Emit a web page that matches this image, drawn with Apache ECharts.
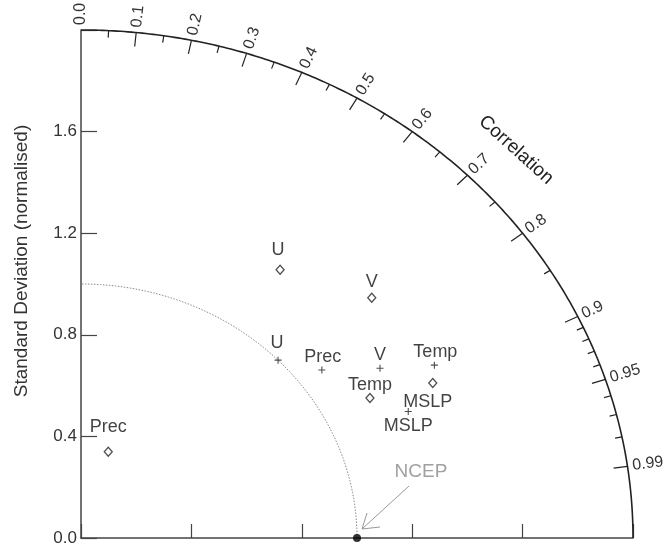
<!DOCTYPE html>
<html><head><meta charset="utf-8">
<script src="https://cdn.jsdelivr.net/npm/echarts@6.0.0/dist/echarts.min.js"></script>
<style>html,body{margin:0;padding:0;background:#fff}#c{width:669px;height:550px}</style>
</head><body><div id="c"></div>
<script>
// ---------------- DATA ----------------
const variables   = ['Prec', 'U', 'V', 'Temp', 'MSLP'];
// diamond markers (normalised std, correlation)
const diamondStd  = [0.354, 1.279, 1.416, 1.183, 1.413];
const diamondCorr = [0.279, 0.564, 0.744, 0.885, 0.902];
// plus markers (normalised std, correlation)
const plusStd     = [1.095, 1.000, 1.273, 1.450, 1.286];
const plusCorr    = [0.797, 0.714, 0.851, 0.883, 0.922];
// reference
const referenceName = 'NCEP';
const referenceStd  = 1.0;
const referenceCorr = 1.0;
// axes
const stdMax      = 2.0;
const stdTickStep = 0.4;
const stdTickLabels = ['0.0', '0.4', '0.8', '1.2', '1.6'];
const corrMajor   = [0.0, 0.1, 0.2, 0.3, 0.4, 0.5, 0.6, 0.7, 0.8, 0.9, 0.95, 0.99];
const corrLabels  = ['0.0', '0.1', '0.2', '0.3', '0.4', '0.5', '0.6', '0.7', '0.8', '0.9', '0.95', '0.99'];
const corrMinor   = [0.05, 0.15, 0.25, 0.35, 0.45, 0.55, 0.65, 0.75, 0.85, 0.91, 0.92, 0.93, 0.94, 0.96, 0.97, 0.98];
const yAxisTitle  = 'Standard Deviation (normalised)';
const corrTitle   = 'Correlation';

// ---------------- STYLE ----------------
const FONT = '"Liberation Sans", Arial, Helvetica, sans-serif';
const diamondLabelOffset = { Prec: [0, -25], U: [-2, -20], V: [0, -16], Temp: [0, -13], MSLP: [-5, 19] };
const plusLabelOffset    = { Prec: [1, -13], U: [-1, -17], V: [0, -13], Temp: [1, -13], MSLP: [0, 15] };

function toXY(std, c) { return [std * c, std * Math.sqrt(Math.max(0, 1 - c * c))]; }

function pointData(stds, corrs, offsets) {
  return variables.map((name, i) => ({
    name: name,
    value: toXY(stds[i], corrs[i]),
    label: { offset: offsets[name] }
  }));
}

const chart = echarts.init(document.getElementById('c'), null, { renderer: 'canvas' });

function renderFrame(params, api) {
  const o = api.coord([0, 0]);
  const children = [];
  // outer correlation arc
  const outer = [];
  for (let i = 0; i <= 240; i++) {
    const a = Math.PI / 2 * i / 240;
    outer.push(api.coord([stdMax * Math.cos(a), stdMax * Math.sin(a)]));
  }
  children.push({ type: 'polyline', shape: { points: outer }, style: { stroke: '#222', lineWidth: 1.6, fill: null } });
  // reference std arc
  const ref = [];
  for (let i = 0; i <= 200; i++) {
    const a = Math.PI / 2 * i / 200;
    ref.push(api.coord([referenceStd * Math.cos(a), referenceStd * Math.sin(a)]));
  }
  children.push({ type: 'polyline', shape: { points: ref }, style: { stroke: '#888', lineWidth: 1, lineDash: [1.5, 1.5], fill: null } });
  // ticks
  function tick(c, len) {
    const p = api.coord(toXY(stdMax, c));
    const dx = p[0] - o[0], dy = p[1] - o[1];
    const n = Math.sqrt(dx * dx + dy * dy);
    return { p: p, ux: dx / n, uy: dy / n, len: len };
  }
  corrMinor.forEach(c => {
    const t = tick(c, 7);
    children.push({ type: 'line', shape: { x1: t.p[0], y1: t.p[1], x2: t.p[0] - t.ux * t.len, y2: t.p[1] - t.uy * t.len }, style: { stroke: '#222', lineWidth: 1.2 } });
  });
  corrMajor.forEach((c, i) => {
    const t = tick(c, 14);
    if (c > 0) {
      children.push({ type: 'line', shape: { x1: t.p[0], y1: t.p[1], x2: t.p[0] - t.ux * t.len, y2: t.p[1] - t.uy * t.len }, style: { stroke: '#222', lineWidth: 1.2 } });
    }
    children.push({
      type: 'text',
      x: t.p[0] + t.ux * 5, y: t.p[1] + t.uy * 5,
      rotation: Math.atan2(-t.uy, t.ux),
      style: { text: corrLabels[i], align: 'left', verticalAlign: 'middle', font: '16px ' + FONT, fill: '#333' }
    });
  });
  // NCEP arrow
  const r = api.coord(toXY(referenceStd, referenceCorr));
  const tip = [r[0] + 5, r[1] - 9];
  children.push({ type: 'line', shape: { x1: r[0] + 52, y1: r[1] - 52, x2: tip[0], y2: tip[1] }, style: { stroke: '#999', lineWidth: 1 } });
  children.push({ type: 'polyline', shape: { points: [[r[0] + 10, r[1] - 25], tip, [r[0] + 23, r[1] - 11]] }, style: { stroke: '#999', lineWidth: 1, fill: null } });
  return { type: 'group', children: children };
}

const labelStyle = { show: true, position: 'inside', formatter: '{b}', fontFamily: FONT, fontSize: 18, color: '#111', align: 'center', verticalAlign: 'middle' };

chart.setOption({
  animation: false,
  backgroundColor: '#fff',
  grid: { left: 81, right: 36, top: 30, bottom: 12, containLabel: false },
  xAxis: {
    type: 'value', min: 0, max: stdMax, interval: stdTickStep,
    axisLine: { show: true, onZero: false, lineStyle: { color: '#444', width: 1.5 } },
    axisTick: { show: true, inside: true, length: 14, lineStyle: { color: '#444', width: 1.2 } },
    axisLabel: { show: false },
    splitLine: { show: false }
  },
  yAxis: {
    type: 'value', min: 0, max: stdMax, interval: stdTickStep,
    axisLine: { show: true, onZero: false, lineStyle: { color: '#444', width: 1.5 } },
    axisTick: { show: true, inside: true, length: 16, lineStyle: { color: '#444', width: 1.2 } },
    axisLabel: {
      show: true, margin: 4, fontFamily: FONT, fontSize: 17, color: '#333',
      formatter: function (v) { const k = Math.round(v / stdTickStep); return stdTickLabels[k] || ''; }
    },
    splitLine: { show: false }
  },
  graphic: [
    { type: 'text', x: 22, y: 261, rotation: Math.PI / 2, style: { text: yAxisTitle, align: 'center', verticalAlign: 'middle', font: '19px ' + FONT, fill: '#333' } },
    { type: 'text', x: 516, y: 150, rotation: -0.733, style: { text: corrTitle, align: 'center', verticalAlign: 'middle', font: '19px ' + FONT, fill: '#222' } }
  ],
  series: [
    { type: 'custom', name: 'frame', coordinateSystem: 'cartesian2d', data: [[0, 0]], renderItem: renderFrame, silent: true, clip: false, z: 1 },
    {
      type: 'scatter', name: 'Experiment (diamond)', data: pointData(diamondStd, diamondCorr, diamondLabelOffset),
      symbol: 'diamond', symbolSize: [8, 9],
      itemStyle: { color: '#fff', borderColor: '#222', borderWidth: 1.3 },
      label: labelStyle, z: 3
    },
    {
      type: 'scatter', name: 'Experiment (plus)', data: pointData(plusStd, plusCorr, plusLabelOffset),
      symbol: 'path://M5,0 L5,10 M0,5 L10,5', symbolSize: 7,
      itemStyle: { color: 'rgba(0,0,0,0)', borderColor: '#222', borderWidth: 1.1 },
      label: labelStyle, z: 3
    },
    {
      type: 'scatter', name: referenceName,
      data: [{ name: referenceName, value: toXY(referenceStd, referenceCorr) }],
      symbol: 'circle', symbolSize: 8, itemStyle: { color: '#000' },
      label: { show: true, position: 'inside', formatter: '{b}', offset: [64, -66], fontFamily: FONT, fontSize: 19, color: '#888' },
      z: 4, clip: false
    }
  ]
});
</script>
</body></html>
